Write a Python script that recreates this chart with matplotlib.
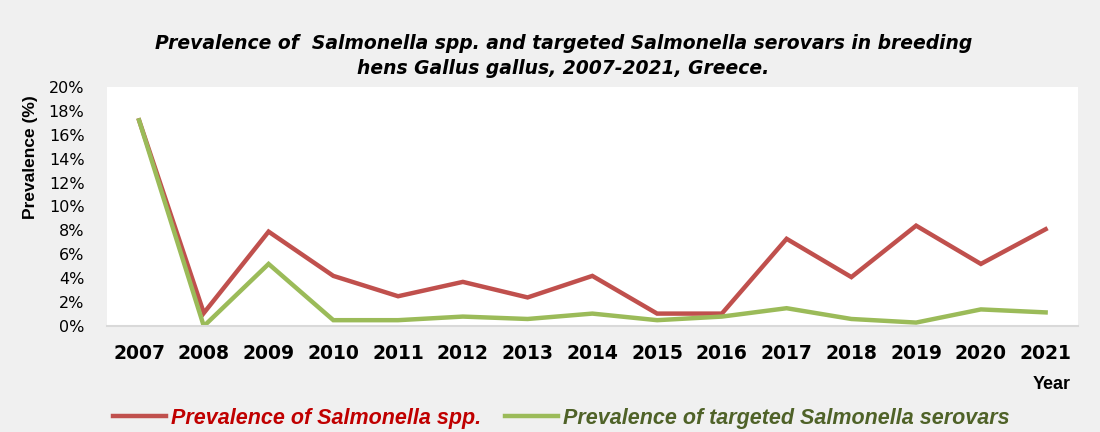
import matplotlib.pyplot as plt
from matplotlib.ticker import PercentFormatter
from matplotlib.lines import Line2D

years = [2007, 2008, 2009, 2010, 2011, 2012, 2013, 2014, 2015, 2016, 2017, 2018, 2019, 2020, 2021]
spp = [17.2, 1.1, 7.9, 4.2, 2.5, 3.7, 2.4, 4.2, 1.05, 1.05, 7.3, 4.1, 8.4, 5.2, 8.1]
targeted = [17.2, 0.0, 5.2, 0.5, 0.5, 0.8, 0.6, 1.05, 0.5, 0.8, 1.5, 0.6, 0.3, 1.4, 1.15]

red = '#c0504d'
green = '#9bbb59'
bg = '#f0f0f0'

fig = plt.figure(figsize=(11, 4.32), dpi=100, facecolor=bg)
ax = fig.add_axes([0.097, 0.245, 0.883, 0.554])
ax.set_facecolor('white')

ax.plot(years, spp, color=red, lw=3.2, solid_joinstyle='miter')
ax.plot(years, targeted, color=green, lw=3.2, solid_joinstyle='miter')

ax.set_xlim(2006.5, 2021.5)
ax.set_ylim(0, 20)
ax.set_yticks(range(0, 21, 2))
ax.yaxis.set_major_formatter(PercentFormatter(decimals=0))
ax.set_xticks(years)
ax.set_xticklabels([str(y) for y in years], fontsize=13.5, fontweight='bold', family='DejaVu Sans')
ax.tick_params(axis='both', length=0)
ax.tick_params(axis='y', labelsize=11.5, pad=16)
ax.tick_params(axis='x', pad=13)

for s in ['top', 'right', 'left']:
    ax.spines[s].set_visible(False)
ax.spines['bottom'].set_color('#d9d9d9')
ax.spines['bottom'].set_linewidth(1.5)

fig.text(0.028, 0.637, 'Prevalence (%)', rotation=90, ha='center', va='center',
         fontsize=12.5, fontweight='bold', family='Liberation Sans')
fig.text(0.956, 0.111, 'Year', ha='center', va='center', fontsize=13,
         fontweight='bold', family='Liberation Sans')

fig.text(0.512, 0.871, 'Prevalence of  Salmonella spp. and targeted Salmonella serovars in breeding\nhens Gallus gallus, 2007-2021, Greece.',
         ha='center', va='center', fontsize=13.5, fontweight='bold', style='italic',
         linespacing=1.4)

handles = [Line2D([], [], color=red, lw=3.2), Line2D([], [], color=green, lw=3.2)]
leg = fig.legend(handles, ['Prevalence of Salmonella spp.', 'Prevalence of targeted Salmonella serovars'],
                 loc='center', bbox_to_anchor=(0.51, 0.032), ncol=2, frameon=False,
                 handlelength=2.5, handletextpad=0.2, columnspacing=1.1,
                 prop={'family': 'Liberation Sans', 'weight': 'bold', 'style': 'italic', 'size': 15.5})
for t, c in zip(leg.get_texts(), ['#c00000', '#4f6228']):
    t.set_color(c)

fig.savefig('out.png', dpi=100, facecolor=bg)
